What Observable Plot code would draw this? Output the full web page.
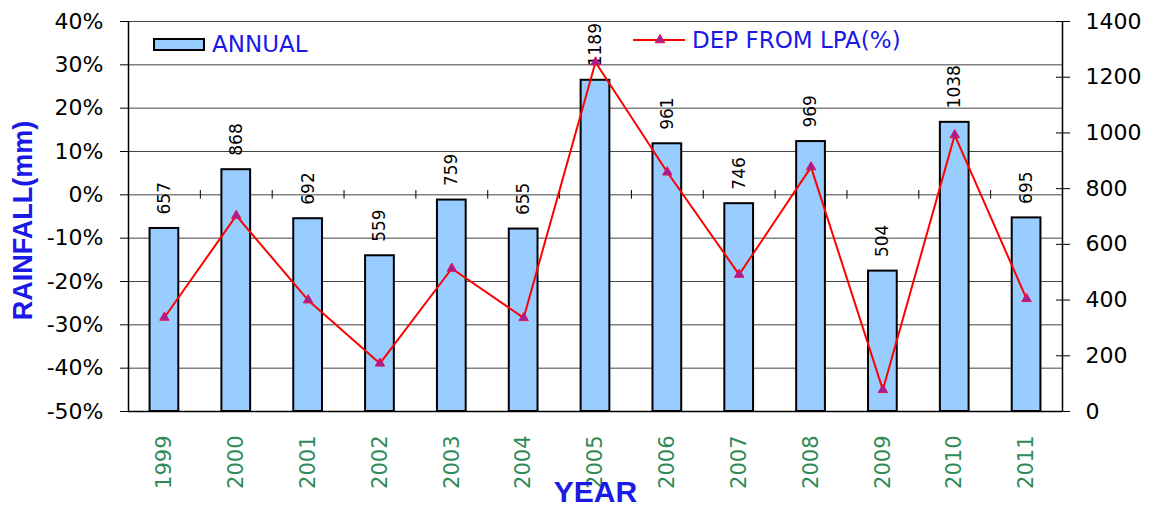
<!DOCTYPE html>
<html>
<head>
<meta charset="utf-8">
<script src="https://cdn.jsdelivr.net/npm/d3@7"></script>
<script src="https://cdn.jsdelivr.net/npm/@observablehq/plot@0.6"></script>
<style>
  html, body { margin: 0; padding: 0; background: #fff; }
  #wrap { position: relative; width: 1157px; height: 516px; }
  .leg { position: absolute; font-family: "DejaVu Sans", sans-serif; font-size: 23px; line-height: 23px; color: #1a1ae6; white-space: nowrap; }
</style>
</head>
<body>
<div id="wrap"></div>
<script>
const years = ["1999","2000","2001","2002","2003","2004","2005","2006","2007","2008","2009","2010","2011"];
const rainfall = [657, 868, 692, 559, 759, 655, 1189, 961, 746, 969, 504, 1038, 695];
const depLPA = [-28.3, -4.8, -24.3, -38.9, -17.0, -28.4, 30.6, 5.2, -18.4, 6.4, -45.0, 13.8, -24.0];
const leftTicks = [-50, -40, -30, -20, -10, 0, 10, 20, 30, 40];
const rightTicks = [0, 200, 400, 600, 800, 1000, 1200, 1400];
const seriesNames = ["ANNUAL", "DEP FROM LPA(%)"];

const data = years.map((y, i) => ({i, year: y, rain: rainfall[i], dep: depLPA[i]}));
const mmToPct = v => -50 + v / 1400 * 90;
const pctToMm = p => (p + 50) / 90 * 1400;
const boundaries = years.slice(1).map((_, k) => k + 0.5);

const blue = "#1a1ae6";
const chart = Plot.plot({
  width: 1157,
  height: 516,
  marginLeft: 128,
  marginRight: 95,
  marginTop: 21,
  marginBottom: 105,
  x: {type: "linear", domain: [-0.5, years.length - 0.5], axis: null},
  y: {domain: [-50, 40], axis: null},
  style: {fontFamily: "DejaVu Sans", background: "white", color: "#000"},
  marks: [
    Plot.ruleY(leftTicks, {stroke: "#444", strokeWidth: 1}),
    Plot.rect(data, {x1: d => d.i - 0.2, x2: d => d.i + 0.2, y1: -50, y2: d => mmToPct(d.rain), fill: "#99ccff", stroke: "#000", strokeWidth: 2}),
    Plot.ruleY([-50], {stroke: "#000", strokeWidth: 1.5}),
    Plot.ruleX([-0.5, years.length - 0.5], {stroke: "#000", strokeWidth: 1.5}),
    Plot.ruleX(boundaries, {y1: -1, y2: 1, stroke: "#000", strokeWidth: 1}),
    Plot.axisY({anchor: "left", ticks: leftTicks, tickFormat: d => d + "%", tickSize: 8, tickPadding: 17, fontSize: 22, label: null}),
    Plot.axisY({anchor: "right", ticks: rightTicks.map(mmToPct), tickFormat: v => String(Math.round(pctToMm(v))), tickSize: 14, dx: -7, tickPadding: 16, fontSize: 22, label: null}),
    Plot.axisX({ticks: years.map((_, i) => i), tickFormat: i => years[i], tickRotate: -90, tickSize: 0, tickPadding: 24, fill: "#2e8b57", fontSize: 21, label: null}),
    Plot.text(data, {x: "i", y: d => mmToPct(d.rain), text: d => String(d.rain), rotate: -90, textAnchor: "start", dy: -14, fontSize: 17, fill: "#000"}),
    Plot.line(data, {x: "i", y: "dep", stroke: "#ff0000", strokeWidth: 2}),
    Plot.dot(data, {x: "i", y: "dep", symbol: "triangle", r: 3.5, fill: "#a0209a", stroke: "#e8104a", strokeWidth: 1}),
    Plot.text(["RAINFALL(mm)"], {frameAnchor: "left", textAnchor: "middle", dx: -105, dy: 4, rotate: -90, fontSize: 27, fontWeight: "bold", fill: blue, fontFamily: "Liberation Sans"}),
    Plot.text(["YEAR"], {frameAnchor: "bottom", dy: 90, fontSize: 30, fontWeight: "bold", fill: blue, fontFamily: "Liberation Sans"})
  ]
});
const wrap = document.getElementById("wrap");
wrap.appendChild(chart);

// Legend overlay (inside plot area)
const leg1sw = document.createElement("div");
leg1sw.style.cssText = "position:absolute;left:153px;top:38px;width:48px;height:9px;background:#99ccff;border:2px solid #000;";
wrap.appendChild(leg1sw);
const leg1 = document.createElement("div");
leg1.className = "leg"; leg1.style.left = "212px"; leg1.style.top = "33px"; leg1.textContent = seriesNames[0];
wrap.appendChild(leg1);

const ns = "http://www.w3.org/2000/svg";
const s2 = document.createElementNS(ns, "svg");
s2.setAttribute("width", 60); s2.setAttribute("height", 16);
s2.style.cssText = "position:absolute;left:630px;top:32px;";
const ln = document.createElementNS(ns, "line");
ln.setAttribute("x1", 3); ln.setAttribute("x2", 55); ln.setAttribute("y1", 8); ln.setAttribute("y2", 8);
ln.setAttribute("stroke", "#ff0000"); ln.setAttribute("stroke-width", 2);
s2.appendChild(ln);
const tri = document.createElementNS(ns, "path");
tri.setAttribute("d", d3.symbol(d3.symbolTriangle, 40)());
tri.setAttribute("transform", "translate(30,8)");
tri.setAttribute("fill", "#a0209a"); tri.setAttribute("stroke", "#e8104a");
s2.appendChild(tri);
wrap.appendChild(s2);
const leg2 = document.createElement("div");
leg2.className = "leg"; leg2.style.left = "692px"; leg2.style.top = "29px"; leg2.textContent = seriesNames[1];
wrap.appendChild(leg2);
</script>
</body>
</html>
